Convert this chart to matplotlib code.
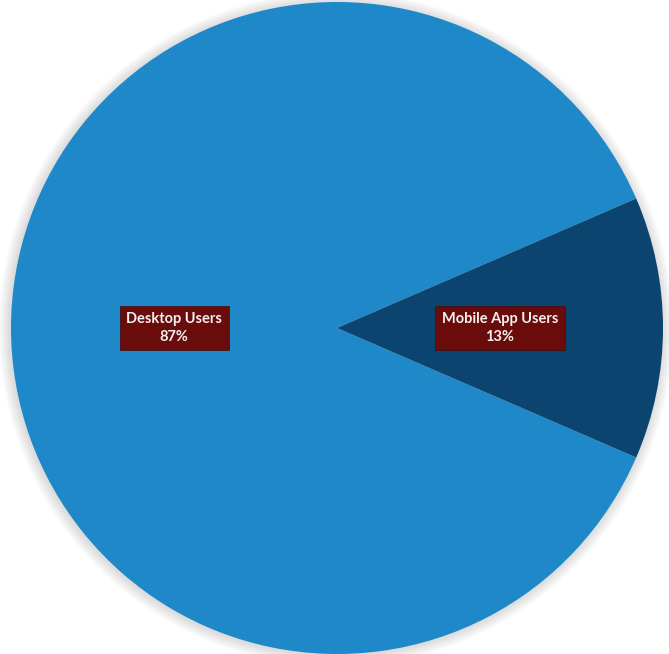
import matplotlib.pyplot as plt
from matplotlib.patches import Circle

labels = ["Desktop Users", "Mobile App Users"]
shares = [87, 13]
colors = ["#1E88C9", "#0B446F"]

W, H = 669, 654
fig = plt.figure(figsize=(W / 100, H / 100), dpi=100)
ax = fig.add_axes([0, 0, 1, 1])

cx, cy, r = 337, 326, 326

# soft shadow around the pie
for i in range(1, 12):
    ax.add_patch(Circle((cx - 1, cy - 1), r + i, facecolor="#7a7a7a",
                        edgecolor="none", alpha=0.025, zorder=0))

start = 360 * shares[1] / sum(shares) / 2
texts = [f"{name}\n{v}%" for name, v in zip(labels, shares)]
wedges, lbls = ax.pie(shares, labels=texts, colors=colors, startangle=start,
                      center=(cx, cy), radius=r, labeldistance=0.5,
                      wedgeprops=dict(linewidth=0),
                      textprops=dict(color="#f4f0f0", fontsize=10.5,
                                     fontweight="bold", family=["Lato", "DejaVu Sans"]),
                      frame=True)
ax.set_xlim(0, W)
ax.set_ylim(0, H)
ax.axis("off")
for t in lbls:
    t.set_horizontalalignment("center")
    t.set_verticalalignment("center")
    t.set_linespacing(1.3)
    t.set_bbox(dict(boxstyle="square,pad=0.45", facecolor="#6A0C0C",
                    edgecolor="#4a0808", linewidth=0.5))

fig.savefig("out.png", dpi=100)
